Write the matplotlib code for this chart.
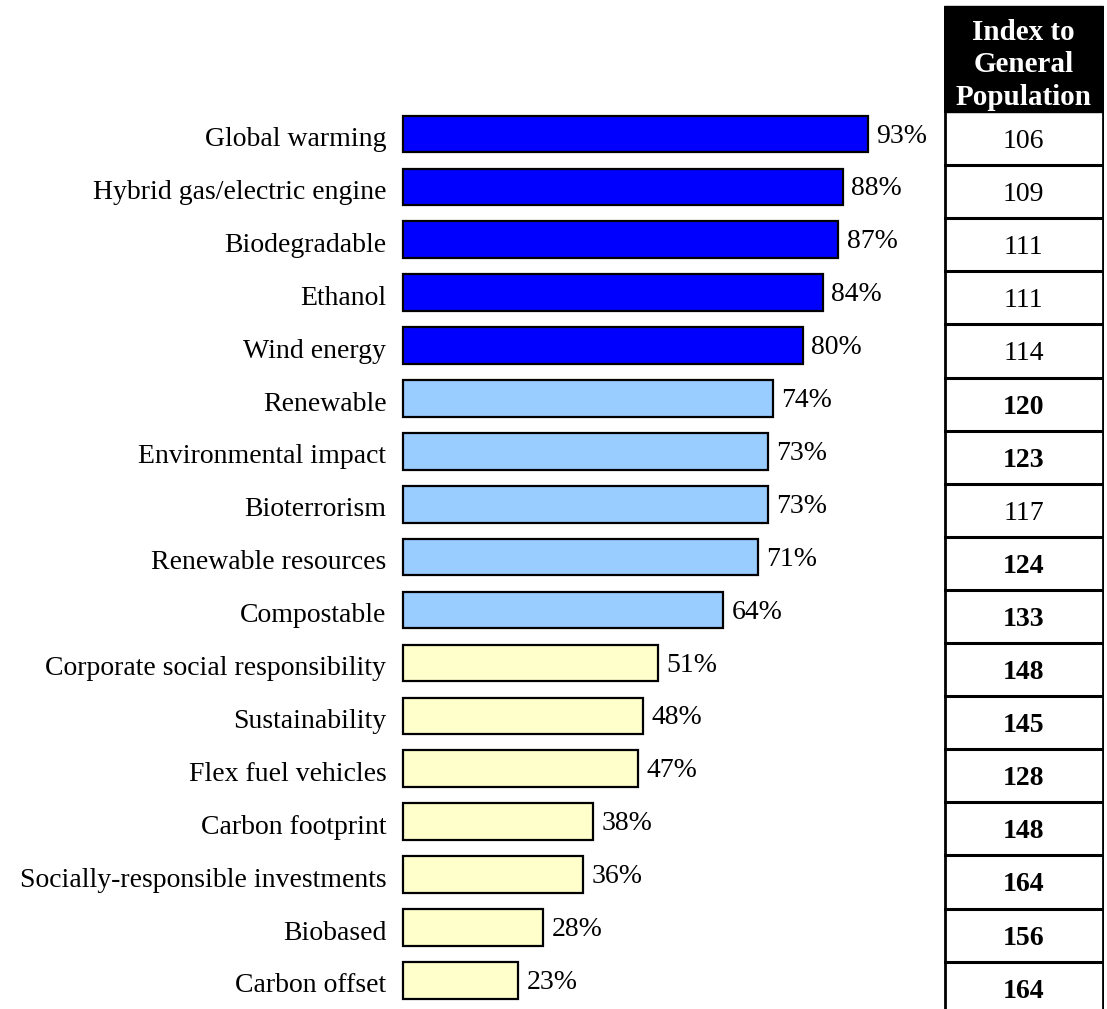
import matplotlib.pyplot as plt
from matplotlib.patches import Rectangle

terms = ['Global warming', 'Hybrid gas/electric engine', 'Biodegradable', 'Ethanol',
         'Wind energy', 'Renewable', 'Environmental impact', 'Bioterrorism',
         'Renewable resources', 'Compostable', 'Corporate social responsibility',
         'Sustainability', 'Flex fuel vehicles', 'Carbon footprint',
         'Socially-responsible investments', 'Biobased', 'Carbon offset']
aware = [93, 88, 87, 84, 80, 74, 73, 73, 71, 64, 51, 48, 47, 38, 36, 28, 23]
index_gp = [106, 109, 111, 111, 114, 120, 123, 117, 124, 133, 148, 145, 128, 148, 164, 156, 164]
tier = [0] * 5 + [1] * 5 + [2] * 7
tier_colors = ['#0000FF', '#99CCFF', '#FFFFCC']

plt.rcParams['font.family'] = ['Liberation Serif', 'DejaVu Serif']

W, H = 1107, 1009
fig = plt.figure(figsize=(W / 100, H / 100), dpi=100)

# bar panel, 5 px per percent, rows ~53 px apart
n = len(terms)
top, row_h = 107.5, 52.9
ax = fig.add_axes([403 / W, 1 - (top + n * row_h) / H, 500 / W, n * row_h / H])
ypos = list(range(n))
ax.barh(ypos, aware, height=0.69, left=0, clip_on=False,
        color=[tier_colors[t] for t in tier], edgecolor='black', linewidth=1.6)
for y, v in zip(ypos, aware):
    ax.text(v + 1.7, y + 0.04, f'{v}%', va='center', ha='left', fontsize=20)
ax.set_xlim(0, 100)
ax.set_ylim(n - 0.5, -0.5)
ax.set_yticks([y + 0.05 for y in ypos])
ax.set_yticklabels(terms, fontsize=20)
ax.tick_params(axis='y', length=0, pad=12)
ax.set_xticks([])
for s in ax.spines.values():
    s.set_visible(False)

# index table on the right, in pixel coordinates
tx = fig.add_axes([944 / W, 0, 160 / W, 1])
tx.set_xlim(0, 160)
tx.set_ylim(H, 0)
tx.axis('off')
head_top, head_bot, trow = 6, 112, 53.1
tx.add_patch(Rectangle((0, head_top), 159, head_bot - head_top, color='black'))
tx.text(79.5, (head_top + head_bot) / 2 + 6, 'Index to\nGeneral\nPopulation',
        color='white', fontweight='bold', fontsize=21, ha='center', va='center',
        linespacing=1.25)
tx.plot([1, 1], [head_bot, H], color='black', lw=2)
tx.plot([158.5, 158.5], [head_bot, H], color='black', lw=2)
for i, v in enumerate(index_gp):
    y0 = head_bot + i * trow
    if i > 0:
        tx.plot([0, 159], [y0, y0], color='black', lw=2.2)
    tx.text(79.5, y0 + trow / 2 + 3, str(v), ha='center', va='center', fontsize=20,
            fontweight='bold' if v >= 120 else 'normal')

fig.savefig('out.png', dpi=100)
